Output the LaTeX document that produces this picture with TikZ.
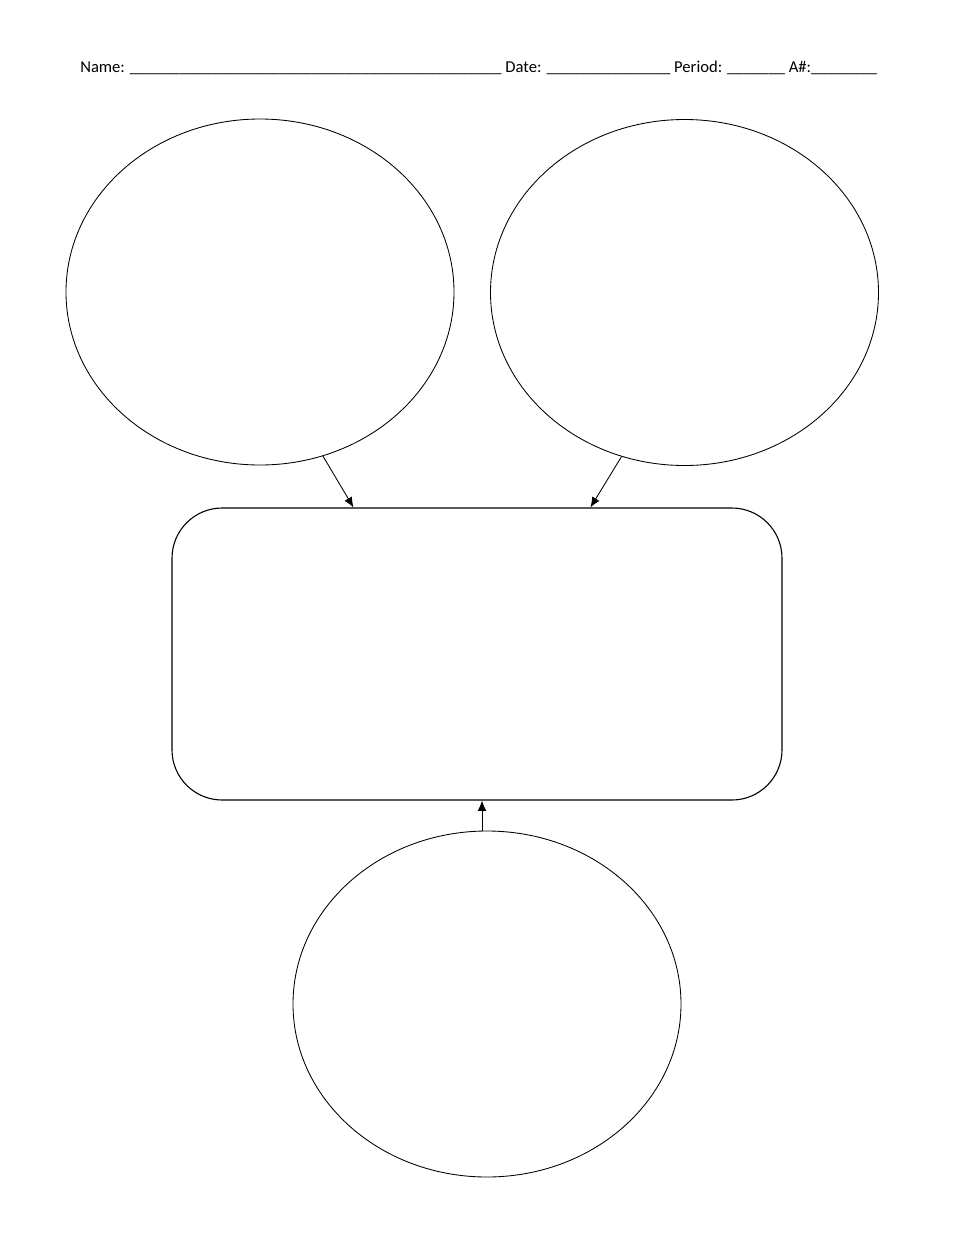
\documentclass[tikz,border=0pt]{standalone}
\usepackage{fontspec}
\setmainfont{Carlito}
\usetikzlibrary{shapes.geometric,arrows.meta,calc}
\begin{document}
\begin{tikzpicture}[x=0.6375pt,y=-0.6375pt,
  bubble/.style={draw,ellipse,line width=0.55pt,inner sep=0pt,minimum width=388*0.6375pt,minimum height=346*0.6375pt},
  mainbox/.style={draw,line width=0.7pt,rectangle,rounded corners=32pt,inner sep=0pt,minimum width=610*0.6375pt,minimum height=292*0.6375pt},
  link/.style={line width=0.55pt,-{Latex[length=6.5pt,width=5.5pt]}}]
\useasboundingbox[fill=white] (0,0) rectangle (960,1243);
\node[anchor=base west,inner sep=0pt] (hdr) at (80,72) {\resizebox{508pt}{!}{\fontsize{11pt}{13pt}\selectfont Name: \_\_\_\_\_\_\_\_\_\_\_\_\_\_\_\_\_\_\_\_\_\_\_\_\_\_\_\_\_\_\_\_\_\_\_\_\_\_\_\_\_\_\_\_\_ Date: \_\_\_\_\_\_\_\_\_\_\_\_\_\_\_ Period: \_\_\_\_\_\_\_ A\#:\_\_\_\_\_\_\_\_}};
\node[bubble] (L) at (260,292) {};
\node[bubble] (R) at (684.5,292.5) {};
\node[bubble] (B) at (487,1004) {};
\node[mainbox] (M) at (477,654) {};
\coordinate (t1) at ($(M.north west)+(182*0.6375pt,0)$);
\coordinate (t2) at ($(M.north west)+(419*0.6375pt,0)$);
\draw[link] (L.-69) -- (t1);
\draw[link] (R.-111) -- (t2);
\draw[link] (B.north -| 482,0) -- (M.south -| 482,0);
\end{tikzpicture}
\end{document}
